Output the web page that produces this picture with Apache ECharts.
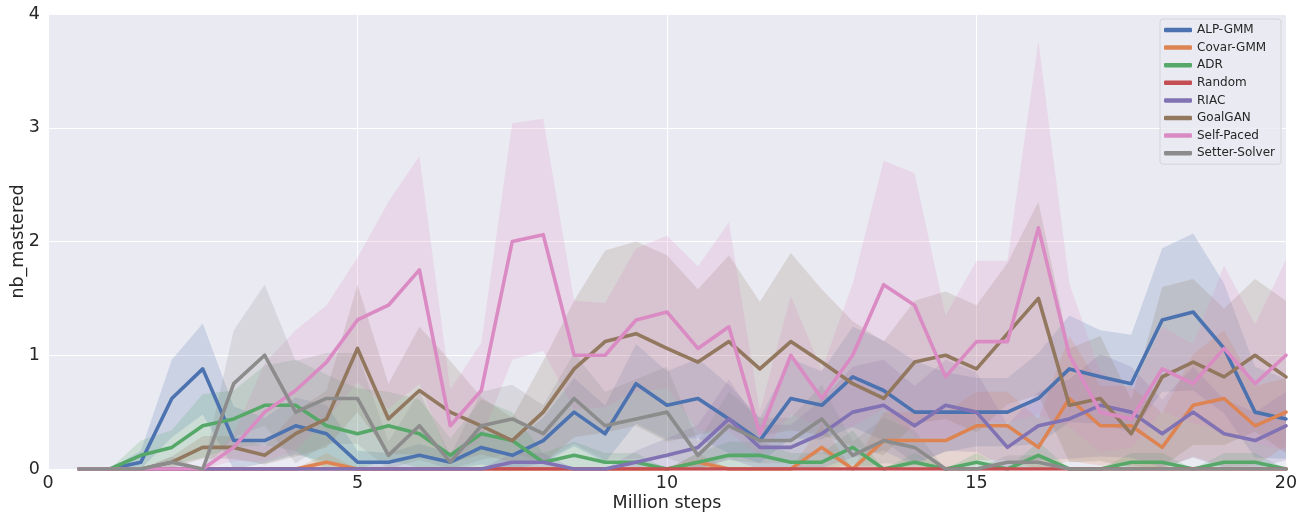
<!DOCTYPE html>
<html><head><meta charset="utf-8">
<script src="https://cdn.jsdelivr.net/npm/echarts@6/dist/echarts.min.js"></script>
<style>html,body{margin:0;padding:0;background:#fff}#c{width:1309px;height:518px}</style>
</head><body><div id="c"></div>
<script>
// x categories (million steps); series values start at 0.5
const steps = [0,0.5,1,1.5,2,2.5,3,3.5,4,4.5,5,5.5,6,6.5,7,7.5,8,8.5,9,9.5,10,10.5,11,11.5,12,12.5,13,13.5,14,14.5,15,15.5,16,16.5,17,17.5,18,18.5,19,19.5,20];
const yTicks = [0,1,2,3,4];
const names = ['ALP-GMM','Covar-GMM','ADR','Random','RIAC','GoalGAN','Self-Paced','Setter-Solver'];
const colors = ['#4C72B0','#DD8452','#55A868','#C44E52','#8172B3','#937860','#DA8BC3','#8C8C8C'];

const alpGmm = [0,0,0.06,0.62,0.88,0.25,0.25,0.38,0.31,0.06,0.06,0.12,0.06,0.19,0.12,0.25,0.5,0.31,0.75,0.56,0.62,0.44,0.25,0.62,0.56,0.81,0.69,0.5,0.5,0.5,0.5,0.62,0.88,0.81,0.75,1.31,1.38,1.06,0.5,0.44];
const alpGmmSpread = [0,0,0.1,0.34,0.4,0.3,0.2,0.25,0.25,0.1,0.08,0.1,0.08,0.15,0.12,0.2,0.3,0.25,0.35,0.3,0.35,0.3,0.2,0.35,0.3,0.44,0.44,0.45,0.35,0.3,0.3,0.4,0.47,0.41,0.43,0.63,0.69,0.57,0.4,0.35];

const covarGmm = [0,0,0,0,0,0,0,0,0.06,0,0,0,0,0,0,0,0,0,0,0,0.06,0,0,0,0.19,0,0.25,0.25,0.25,0.38,0.38,0.19,0.62,0.38,0.38,0.19,0.56,0.62,0.38,0.5];
const covarGmmSpread = [0,0,0,0,0,0,0,0,0.08,0,0,0,0,0,0,0,0,0,0,0,0.08,0,0,0,0.2,0,0.25,0.25,0.25,0.3,0.3,0.25,0.55,0.35,0.35,0.3,0.45,0.6,0.35,0.3];

const adr = [0,0,0.12,0.19,0.38,0.44,0.56,0.56,0.38,0.31,0.38,0.31,0.12,0.31,0.25,0.06,0.12,0.06,0.06,0,0.06,0.12,0.12,0.06,0.06,0.19,0,0.06,0,0.06,0,0.12,0,0,0.06,0.06,0,0.06,0.06,0];
const adrSpread = [0,0,0.13,0.15,0.28,0.25,0.35,0.4,0.45,0.4,0.3,0.3,0.15,0.3,0.25,0.08,0.12,0.08,0.08,0,0.08,0.12,0.12,0.08,0.08,0.15,0,0.08,0,0.08,0,0.12,0,0,0.08,0.08,0,0.08,0.08,0];

const random = [0,0,0,0,0,0,0,0,0,0,0,0,0,0,0,0,0,0,0,0,0,0,0,0,0,0,0,0,0,0,0,0,0,0,0,0,0,0,0,0];
const randomSpread = [0,0,0,0,0,0,0,0,0,0,0,0,0,0,0,0,0,0,0,0,0,0,0,0,0,0,0,0,0,0,0,0,0,0,0,0,0,0,0,0];

const riac = [0,0,0,0,0,0,0,0,0,0,0,0,0,0,0.06,0.06,0,0,0.06,0.12,0.19,0.44,0.19,0.19,0.31,0.5,0.56,0.38,0.56,0.5,0.19,0.38,0.44,0.56,0.5,0.31,0.5,0.31,0.25,0.38];
const riacSpread = [0,0,0,0,0,0,0,0,0,0,0,0,0,0,0.08,0.08,0,0,0.1,0.15,0.2,0.35,0.2,0.2,0.3,0.4,0.4,0.35,0.4,0.35,0.2,0.3,0.35,0.45,0.4,0.3,0.4,0.3,0.25,0.3];

const goalGan = [0,0,0,0.06,0.19,0.19,0.12,0.31,0.44,1.06,0.44,0.69,0.5,0.38,0.25,0.5,0.88,1.12,1.19,1.06,0.94,1.12,0.88,1.12,0.94,0.75,0.62,0.94,1.0,0.88,1.19,1.5,0.56,0.62,0.31,0.81,0.94,0.81,1.0,0.81];
const goalGanSpread = [0,0,0,0.05,0.1,0.1,0.08,0.2,0.25,0.56,0.31,0.56,0.45,0.25,0.2,0.45,0.6,0.8,0.81,0.82,0.64,0.76,0.59,0.78,0.64,0.55,0.5,0.54,0.56,0.56,0.62,0.85,0.5,0.55,0.3,0.79,0.73,0.6,0.67,0.67];

const selfPaced = [0,0,0,0,0,0.19,0.5,0.69,0.94,1.31,1.44,1.75,0.38,0.69,2.0,2.06,1.0,1.0,1.31,1.38,1.06,1.25,0.31,1.0,0.62,1.0,1.62,1.44,0.81,1.12,1.12,2.12,1.0,0.5,0.44,0.88,0.75,1.06,0.75,1.0];
const selfPacedSpread = [0,0,0,0,0,0.12,0.43,0.53,0.5,0.55,0.91,1.0,0.32,0.42,1.04,1.02,0.48,0.46,0.63,0.67,0.72,0.92,0.2,0.52,0.25,0.63,1.09,1.16,0.54,0.71,0.71,1.64,0.63,0.35,0.25,0.37,0.35,0.73,0.52,0.84];

const setterSolver = [0,0,0,0.06,0,0.75,1.0,0.5,0.62,0.62,0.12,0.38,0.06,0.38,0.44,0.31,0.62,0.38,0.44,0.5,0.12,0.38,0.25,0.25,0.44,0.12,0.25,0.19,0,0,0.06,0.06,0,0,0,0,0,0,0,0];
const setterSolverSpread = [0,0,0,0.05,0,0.47,0.62,0.45,0.4,0.4,0.12,0.3,0.06,0.3,0.3,0.25,0.4,0.3,0.35,0.4,0.12,0.3,0.2,0.2,0.3,0.12,0.2,0.15,0,0,0.06,0.06,0,0,0,0,0,0,0,0];

const means = [alpGmm,covarGmm,adr,random,riac,goalGan,selfPaced,setterSolver];
const spreads = [alpGmmSpread,covarGmmSpread,adrSpread,randomSpread,riacSpread,goalGanSpread,selfPacedSpread,setterSolverSpread];

const series = [];
means.forEach((m, i) => {
  const lower = [null].concat(m.map((v, k) => Math.max(0, v - spreads[i][k])));
  const height = [null].concat(m.map((v, k) => (v + spreads[i][k]) - Math.max(0, v - spreads[i][k])));
  series.push({
    name: names[i] + ' lo', type: 'line', stack: 'band' + i, data: lower,
    symbol: 'none', silent: true, z: 1, lineStyle: { opacity: 0 }, emphasis: { disabled: true }
  });
  series.push({
    name: names[i] + ' band', type: 'line', stack: 'band' + i, data: height,
    symbol: 'none', silent: true, z: 1, lineStyle: { opacity: 0 },
    areaStyle: { color: colors[i], opacity: 0.2 }, emphasis: { disabled: true }
  });
});
means.forEach((m, i) => {
  series.push({
    name: names[i], type: 'line', data: [null].concat(m), symbol: 'none', z: 3,
    color: colors[i],
    lineStyle: { color: colors[i], width: 3.6, cap: 'round', join: 'round' },
    emphasis: { disabled: true }
  });
});

const chart = echarts.init(document.getElementById('c'), null, { renderer: 'canvas' });
const font = 'DejaVu Sans';
chart.setOption({
  animation: false,
  backgroundColor: '#ffffff',
  textStyle: { fontFamily: font },
  grid: { left: 48, right: 23, top: 14, bottom: 49, show: true, backgroundColor: '#EAEAF2', borderWidth: 0,
          containLabel: false, outerBoundsMode: 'none' },
  legend: {
    data: names.map(n => ({ name: n, icon: 'roundRect' })),
    orient: 'vertical', right: 28, top: 19,
    itemWidth: 28, itemHeight: 4.5, itemGap: 5.6,
    textStyle: { fontFamily: font, fontSize: 12, color: '#262626' },
    backgroundColor: 'rgba(234,234,242,0.8)', borderColor: '#d4d4dc', borderWidth: 1, borderRadius: 3,
    padding: [5, 6, 5, 4]
  },
  xAxis: {
    type: 'category', data: steps, boundaryGap: false,
    name: 'Million steps', nameLocation: 'middle', nameGap: 25, nameMoveOverlap: false,
    nameTextStyle: { fontFamily: font, fontSize: 17.5, color: '#262626' },
    axisLine: { show: false }, axisTick: { show: false },
    axisLabel: { interval: 9, fontFamily: font, fontSize: 17.5, color: '#262626', margin: 5 },
    splitLine: { show: true, interval: 9, lineStyle: { color: '#ffffff', width: 1 } }
  },
  yAxis: {
    type: 'value', min: yTicks[0], max: yTicks[yTicks.length - 1], interval: 1,
    name: 'nb_mastered', nameLocation: 'middle', nameGap: 21, nameRotate: 90, nameMoveOverlap: false,
    nameTextStyle: { fontFamily: font, fontSize: 17.5, color: '#262626' },
    axisLine: { show: false }, axisTick: { show: false },
    axisLabel: { fontFamily: font, fontSize: 17.5, color: '#262626', margin: 8 },
    splitLine: { show: true, lineStyle: { color: '#ffffff', width: 1 } }
  },
  series: series
});
</script>
</body></html>
